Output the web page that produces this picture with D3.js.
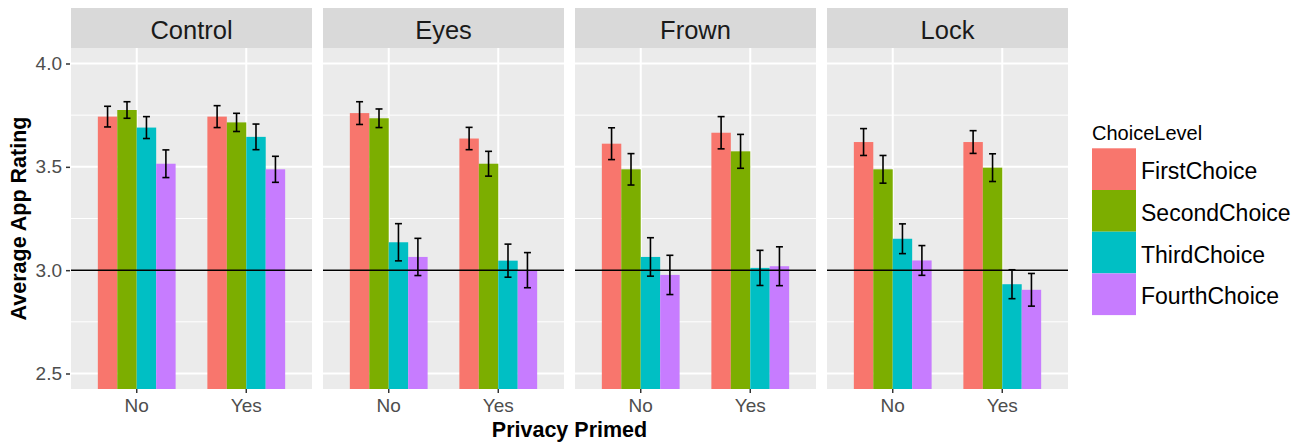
<!DOCTYPE html>
<html>
<head>
<meta charset="utf-8">
<script src="https://cdn.jsdelivr.net/npm/d3@7"></script>
<style>
  html, body { margin: 0; padding: 0; background: #ffffff; }
  svg { display: block; font-family: "Liberation Sans", Arial, sans-serif; }
</style>
</head>
<body>
<svg id="chart" width="1305" height="448"></svg>
<script>
// ---- data ----
const facets = ["Control", "Eyes", "Frown", "Lock"];
const primed = ["No", "Yes"];
const choices = ["FirstChoice", "SecondChoice", "ThirdChoice", "FourthChoice"];
const colors = ["#F8766D", "#7CAE00", "#00BFC4", "#C77CFF"];
const yTicks = [2.5, 3.0, 3.5, 4.0];
const yMinor = [2.75, 3.25, 3.75];
const refLine = 3.0;

// means, per facet: [No: First, Second, Third, Fourth], [Yes: ...]
const controlMeans = [[3.743, 3.775, 3.690, 3.515], [3.743, 3.715, 3.645, 3.488]];
const eyesMeans    = [[3.760, 3.735, 3.135, 3.064], [3.637, 3.515, 3.046, 3.000]];
const frownMeans   = [[3.612, 3.488, 3.064, 2.977], [3.665, 3.575, 3.011, 3.019]];
const lockMeans    = [[3.620, 3.488, 3.152, 3.047], [3.620, 3.496, 2.932, 2.905]];
// standard errors
const controlErr = [[0.050, 0.040, 0.053, 0.067], [0.053, 0.044, 0.062, 0.063]];
const eyesErr    = [[0.055, 0.045, 0.090, 0.090], [0.054, 0.060, 0.080, 0.085]];
const frownErr   = [[0.077, 0.076, 0.093, 0.095], [0.078, 0.082, 0.085, 0.094]];
const lockErr    = [[0.065, 0.067, 0.072, 0.072], [0.055, 0.067, 0.070, 0.079]];

const meansByFacet = [controlMeans, eyesMeans, frownMeans, lockMeans];
const errByFacet = [controlErr, eyesErr, frownErr, lockErr];

// ---- layout ----
const svg = d3.select("#chart");
const panelW = 241, panelGap = 11, panelLeft0 = 71;
const stripTop = 8, panelTop = 48, panelBottom = 389;

const y = d3.scaleLinear().domain([2.425, 4.075]).range([panelBottom, panelTop]);
const fx = d3.scaleBand().domain(facets).range([panelLeft0, panelLeft0 + 4 * panelW + 3 * panelGap]).paddingInner(panelGap / (panelW + panelGap));
const x = d3.scaleBand().domain(primed).range([0, panelW]).paddingInner(0).paddingOuter(0.1);
const dodgeW = 0.71 * x.step();
const xs = d3.scaleBand().domain(choices).range([-dodgeW / 2, dodgeW / 2]);
const color = d3.scaleOrdinal().domain(choices).range(colors);

facets.forEach((f, fi) => {
  const g = svg.append("g").attr("transform", `translate(${fx(f)},0)`);
  const w = fx.bandwidth();
  // strip
  g.append("rect").attr("x", 0).attr("y", stripTop).attr("width", w).attr("height", panelTop - stripTop).attr("fill", "#D9D9D9");
  g.append("text").attr("x", w / 2).attr("y", 39).attr("text-anchor", "middle")
    .attr("font-size", 25.5).attr("fill", "#1A1A1A").text(f);
  // panel background
  g.append("rect").attr("x", 0).attr("y", panelTop).attr("width", w).attr("height", panelBottom - panelTop).attr("fill", "#EBEBEB");
  // grid
  g.selectAll(".minor").data(yMinor).join("line")
    .attr("x1", 0).attr("x2", w).attr("y1", d => y(d)).attr("y2", d => y(d))
    .attr("stroke", "#ffffff").attr("stroke-width", 1);
  g.selectAll(".major").data(yTicks).join("line")
    .attr("x1", 0).attr("x2", w).attr("y1", d => y(d)).attr("y2", d => y(d))
    .attr("stroke", "#ffffff").attr("stroke-width", 2);
  g.selectAll(".vgrid").data(primed).join("line")
    .attr("x1", d => x(d) + x.bandwidth() / 2).attr("x2", d => x(d) + x.bandwidth() / 2)
    .attr("y1", panelTop).attr("y2", panelBottom)
    .attr("stroke", "#ffffff").attr("stroke-width", 2);

  // bars
  const rows = [];
  primed.forEach((p, pi) => choices.forEach((c, ci) => {
    rows.push({ p, c, v: meansByFacet[fi][pi][ci], e: errByFacet[fi][pi][ci] });
  }));
  const cx = d => x(d.p) + x.bandwidth() / 2;
  g.selectAll(".bar").data(rows).join("rect")
    .attr("x", d => cx(d) + xs(d.c))
    .attr("y", d => y(d.v))
    .attr("width", xs.bandwidth())
    .attr("height", d => panelBottom - y(d.v))
    .attr("fill", d => color(d.c));

  // reference line
  g.append("line").attr("x1", 0).attr("x2", w).attr("y1", y(refLine)).attr("y2", y(refLine))
    .attr("stroke", "#000000").attr("stroke-width", 1.5);

  // error bars
  const capW = 3.5;
  const eb = g.selectAll(".eb").data(rows).join("g")
    .attr("transform", d => `translate(${cx(d) + xs(d.c) + xs.bandwidth() / 2},0)`);
  eb.append("line").attr("x1", 0).attr("x2", 0)
    .attr("y1", d => y(d.v + d.e)).attr("y2", d => y(d.v - d.e))
    .attr("stroke", "#000").attr("stroke-width", 1.6);
  eb.append("line").attr("x1", -capW).attr("x2", capW)
    .attr("y1", d => y(d.v + d.e)).attr("y2", d => y(d.v + d.e))
    .attr("stroke", "#000").attr("stroke-width", 1.6);
  eb.append("line").attr("x1", -capW).attr("x2", capW)
    .attr("y1", d => y(d.v - d.e)).attr("y2", d => y(d.v - d.e))
    .attr("stroke", "#000").attr("stroke-width", 1.6);

  // x axis
  const xAxis = d3.axisBottom(x).tickSize(4).tickPadding(6);
  const ax = g.append("g").attr("transform", `translate(0,${panelBottom})`).call(xAxis);
  ax.select(".domain").remove();
  ax.selectAll(".tick line").attr("stroke", "#333333").attr("stroke-width", 1.5);
  ax.selectAll(".tick text").attr("fill", "#4D4D4D").attr("font-size", 19)
    .attr("font-family", "Liberation Sans, Arial, sans-serif").attr("dy", "0.71em");
});

// y axis
const yAxis = d3.axisLeft(y).tickValues(yTicks).tickFormat(d3.format(".1f")).tickSize(4).tickPadding(4);
const ay = svg.append("g").attr("transform", `translate(${panelLeft0 - 1},0)`).call(yAxis);
ay.select(".domain").remove();
ay.selectAll(".tick line").attr("stroke", "#333333").attr("stroke-width", 1.5);
ay.selectAll(".tick text").attr("fill", "#4D4D4D").attr("font-size", 19)
  .attr("font-family", "Liberation Sans, Arial, sans-serif");

// axis titles
svg.append("text").attr("x", (panelLeft0 + fx.range()[1]) / 2).attr("y", 437)
  .attr("text-anchor", "middle").attr("font-weight", "bold").attr("font-size", 21.5)
  .attr("fill", "#000").text("Privacy Primed");
svg.append("text").attr("transform", `translate(26,${(panelTop + panelBottom) / 2}) rotate(-90)`)
  .attr("text-anchor", "middle").attr("font-weight", "bold").attr("font-size", 21.5)
  .attr("fill", "#000").text("Average App Rating");

// legend
const lg = svg.append("g").attr("transform", "translate(1092,0)");
lg.append("text").attr("x", 0).attr("y", 139.5).attr("font-size", 20).attr("fill", "#000").text("ChoiceLevel");
const keyH = 41.7, keyTop = 148.3, keyW = 44;
const ly = d3.scaleBand().domain(choices).range([keyTop, keyTop + keyH * choices.length]);
lg.selectAll(".key").data(choices).join("rect")
  .attr("x", 0).attr("y", d => ly(d)).attr("width", keyW).attr("height", ly.bandwidth())
  .attr("fill", d => color(d));
lg.selectAll(".lab").data(choices).join("text")
  .attr("x", keyW + 5).attr("y", d => ly(d) + ly.bandwidth() / 2 + 10)
  .attr("font-size", 23).attr("fill", "#000").text(d => d);
</script>
</body>
</html>
